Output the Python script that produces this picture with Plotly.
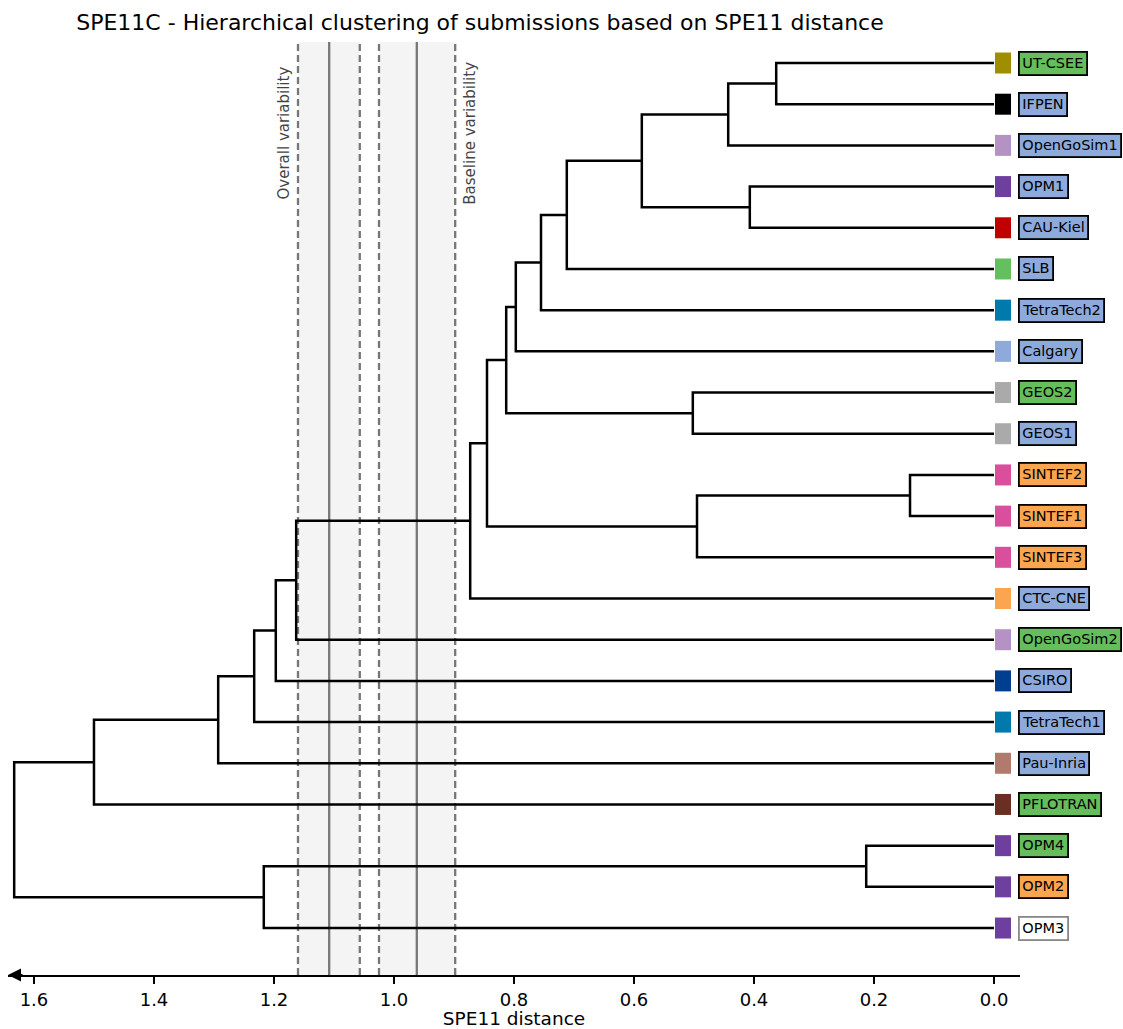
import plotly.graph_objects as go

# ---------------- data ----------------
leaves = ["UT-CSEE", "IFPEN", "OpenGoSim1", "OPM1", "CAU-Kiel", "SLB", "TetraTech2",
          "Calgary", "GEOS2", "GEOS1", "SINTEF2", "SINTEF1", "SINTEF3", "CTC-CNE",
          "OpenGoSim2", "CSIRO", "TetraTech1", "Pau-Inria", "PFLOTRAN", "OPM4", "OPM2", "OPM3"]

marker_colors = ["#9e8e00", "#000000", "#b492c4", "#6e3f9e", "#c00000", "#64bf5e", "#0079ad",
                 "#8eaadb", "#aaaaaa", "#aaaaaa", "#d94f9e", "#d94f9e", "#d94f9e", "#fba550",
                 "#b492c4", "#003f8f", "#0079ad", "#b07b6c", "#6a2e22", "#6e3f9e", "#6e3f9e", "#6e3f9e"]

GREEN, BLUE, ORANGE, WHITE = "#65bd5b", "#8eaadb", "#fba54f", "#ffffff"
label_colors = [GREEN, BLUE, BLUE, BLUE, BLUE, BLUE, BLUE, BLUE, GREEN, BLUE, ORANGE, ORANGE,
                ORANGE, BLUE, GREEN, BLUE, BLUE, BLUE, GREEN, GREEN, ORANGE, WHITE]
label_borders = ["#000000"] * 21 + ["#888888"]

# linkage: merge i is called "m<i>"
merge_left = ["UT-CSEE", "m0", "OPM1", "m1", "m3", "m4", "m5", "GEOS2", "m6", "SINTEF2", "m9",
              "m8", "m11", "m12", "m13", "m14", "m15", "m16", "OPM4", "m18", "m17"]
merge_right = ["IFPEN", "OpenGoSim1", "CAU-Kiel", "m2", "SLB", "TetraTech2", "Calgary", "GEOS1",
               "m7", "SINTEF1", "SINTEF3", "m10", "CTC-CNE", "OpenGoSim2", "CSIRO", "TetraTech1",
               "Pau-Inria", "PFLOTRAN", "OPM2", "OPM3", "m19"]
merge_height = [0.363, 0.443, 0.407, 0.587, 0.712, 0.755, 0.797, 0.502, 0.813, 0.140, 0.495,
                0.845, 0.873, 1.163, 1.197, 1.233, 1.293, 1.500, 0.213, 1.217, 1.633]

overall_band = [1.160, 1.057]
overall_mean = 1.108
baseline_band = [1.025, 0.898]
baseline_mean = 0.962

tick_vals = [1.6, 1.4, 1.2, 1.0, 0.8, 0.6, 0.4, 0.2, 0.0]
x_range = [1.6433, -0.0433]
y_range = [len(leaves) + 0.14, -0.51]

# ---------------- build dendrogram ----------------
pos = {name: (0.0, float(i)) for i, name in enumerate(leaves)}
xs, ys = [], []
for i, (a, b, h) in enumerate(zip(merge_left, merge_right, merge_height)):
    xa, ya = pos[a]
    xb, yb = pos[b]
    xs += [xa, h, h, xb, None]
    ys += [ya, ya, yb, yb, None]
    pos[f"m{i}"] = (h, (ya + yb) / 2)

FONT = "DejaVu Sans"
fig = go.Figure()

# variability bands
shapes = []
for band, mean in [(overall_band, overall_mean), (baseline_band, baseline_mean)]:
    shapes.append(dict(type="rect", xref="x", yref="paper", x0=band[0], x1=band[1], y0=0, y1=1,
                       fillcolor="#f4f4f4", line=dict(width=0), layer="below"))
    for v in band:
        shapes.append(dict(type="line", xref="x", yref="paper", x0=v, x1=v, y0=0, y1=1,
                           line=dict(color="#777777", width=2.3, dash="7px,4px"), layer="below"))
    shapes.append(dict(type="line", xref="x", yref="paper", x0=mean, x1=mean, y0=0, y1=1,
                       line=dict(color="#777777", width=2.3), layer="below"))

fig.add_trace(go.Scatter(x=xs, y=ys, mode="lines", line=dict(color="black", width=2.5),
                         hoverinfo="skip", showlegend=False))

# leaf colour markers
marker_x = -0.015
fig.add_trace(go.Scatter(x=[marker_x] * len(leaves), y=list(range(len(leaves))), mode="markers",
                         marker=dict(symbol="line-ns", size=15,
                                     line=dict(width=16, color=marker_colors)),
                         hoverinfo="text", text=leaves, showlegend=False, cliponaxis=False))

annotations = []
label_x = -0.04
for i, name in enumerate(leaves):
    annotations.append(dict(x=label_x, y=i, xref="x", yref="y", text=name, showarrow=False,
                            xanchor="left", yanchor="middle", bgcolor=label_colors[i],
                            bordercolor=label_borders[i], borderwidth=1.8, borderpad=2.5,
                            font=dict(family=FONT, size=14.5, color="black")))

annotations.append(dict(x=overall_band[0], y=1, xref="x", yref="paper", text="Overall variability",
                        textangle=-90, showarrow=False, xanchor="right", yanchor="top", xshift=-3,
                        yshift=-22, font=dict(family=FONT, size=15, color="#444444")))
annotations.append(dict(x=baseline_band[1], y=1, xref="x", yref="paper", text="Baseline variability",
                        textangle=-90, showarrow=False, xanchor="left", yanchor="top", xshift=3,
                        yshift=-18, font=dict(family=FONT, size=15, color="#444444")))

# axis arrow
annotations.append(dict(x=x_range[0], y=0, xref="x", yref="paper", ax=16, ay=0, showarrow=True,
                        arrowhead=2, arrowsize=1.3, arrowwidth=2, arrowcolor="black", text=""))

fig.update_layout(
    width=1123, height=1029,
    margin=dict(l=8, r=103, t=42, b=54),
    paper_bgcolor="white", plot_bgcolor="white",
    font=dict(family=FONT, color="black"),
    title=dict(text="SPE11C - Hierarchical clustering of submissions based on SPE11 distance",
               x=480 / 1123, xanchor="center", y=1 - 22 / 1029, yanchor="middle",
               font=dict(family=FONT, size=22, color="black")),
    xaxis=dict(range=x_range, tickvals=tick_vals, ticktext=[f"{v:.1f}" for v in tick_vals],
               showgrid=False, zeroline=False, showline=True, linecolor="black", linewidth=2,
               ticks="outside", ticklen=7, tickwidth=1.5, tickcolor="black",
               tickfont=dict(family=FONT, size=18, color="black"), automargin=False,
               title=dict(text="SPE11 distance", font=dict(family=FONT, size=18.5, color="black"),
                          standoff=7)),
    yaxis=dict(range=y_range, visible=False, showgrid=False, zeroline=False, automargin=False),
    shapes=shapes,
    annotations=annotations,
    showlegend=False,
)

fig.write_html("out.html", config={"displayModeBar": False},
               post_script="document.body.style.margin='0px';document.body.style.overflow='hidden';")
